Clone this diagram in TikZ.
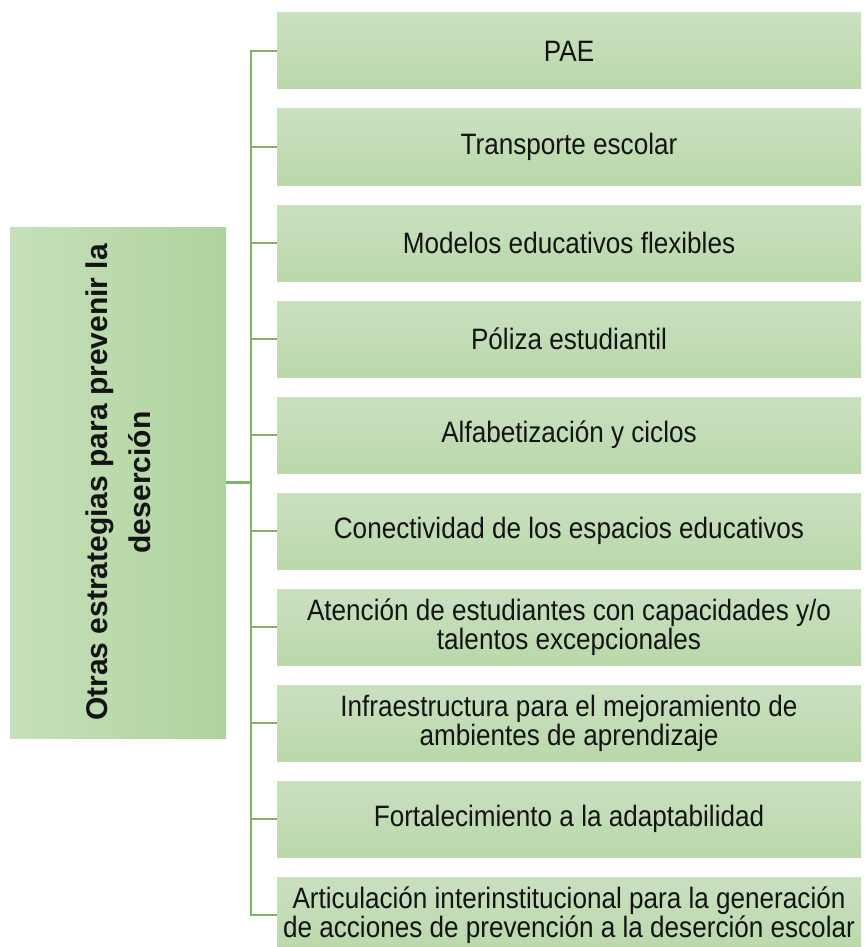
\documentclass[tikz,border=0pt]{standalone}
\usepackage{fontspec}
\setmainfont{Liberation Sans}[FakeStretch=0.885]
\newfontfamily\tituloletra{Liberation Sans}
\usetikzlibrary{shapes,arrows,positioning,calc}
\definecolor{cajaarriba}{RGB}{202,224,192}
\definecolor{cajaabajo}{RGB}{186,216,170}
\definecolor{ladoizq}{RGB}{198,224,187}
\definecolor{ladoder}{RGB}{175,211,157}
\definecolor{rama}{RGB}{125,180,105}
\definecolor{letra}{RGB}{20,20,20}

\begin{document}
\begin{tikzpicture}[x=1pt, y=1pt, node distance=96pt,
  caja/.style={rectangle, top color=cajaarriba, bottom color=cajaabajo, minimum width=584pt, minimum height=76pt, inner sep=0pt, align=center, text=letra, font=\fontsize{29.5}{29}\selectfont},
  linea/.style={draw=rama, line width=2.5pt}]
\useasboundingbox (0,0) rectangle (865,-947);

% tema principal
\node[rectangle, left color=ladoizq, right color=ladoder, minimum width=216pt, minimum height=511pt, inner sep=0pt] (tema) at (118,-482.5) {};
\node[rotate=90, align=center, text=letra, font=\tituloletra\bfseries\fontsize{30}{43}\selectfont] (titulo) at (tema.center) {Otras estrategias para prevenir la\\deserción};

% estrategias
\node[caja] (pae) at (569,-51) {PAE};
\node[caja, below of=pae] (transporte) {Transporte escolar};
\node[caja, below of=transporte] (modelos) {Modelos educativos flexibles};
\node[caja, below of=modelos] (poliza) {Póliza estudiantil};
\node[caja, below of=poliza] (alfabetizacion) {Alfabetización y ciclos};
\node[caja, below of=alfabetizacion] (conectividad) {Conectividad de los espacios educativos};
\node[caja, below of=conectividad] (atencion) {Atención de estudiantes con capacidades y/o\\talentos excepcionales};
\node[caja, below of=atencion] (infraestructura) {Infraestructura para el mejoramiento de\\ambientes de aprendizaje};
\node[caja, below of=infraestructura] (fortalecimiento) {Fortalecimiento a la adaptabilidad};
\node[caja, below of=fortalecimiento] (articulacion) {Articulación interinstitucional para la generación\\de acciones de prevención a la deserción escolar};

% conexiones
\coordinate (eje) at (251,0);
\draw[linea] (tema.east) -- (tema.east -| eje);
\draw[linea] (pae.west) -- (pae.west -| eje) -- (articulacion.west -| eje) -- (articulacion.west);
\draw[linea] (transporte.west) -- (transporte.west -| eje);
\draw[linea] (modelos.west) -- (modelos.west -| eje);
\draw[linea] (poliza.west) -- (poliza.west -| eje);
\draw[linea] (alfabetizacion.west) -- (alfabetizacion.west -| eje);
\draw[linea] (conectividad.west) -- (conectividad.west -| eje);
\draw[linea] (atencion.west) -- (atencion.west -| eje);
\draw[linea] (infraestructura.west) -- (infraestructura.west -| eje);
\draw[linea] (fortalecimiento.west) -- (fortalecimiento.west -| eje);
\end{tikzpicture}
\end{document}
